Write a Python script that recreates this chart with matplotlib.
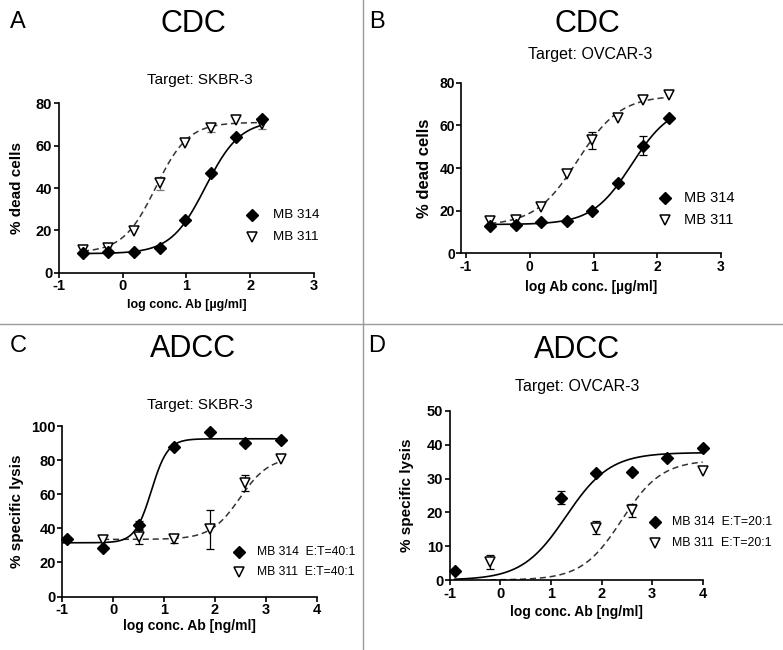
import matplotlib
matplotlib.use("Agg")
import matplotlib.pyplot as plt
from matplotlib.lines import Line2D
import numpy as np

plt.rcParams['font.family'] = ['Liberation Sans', 'DejaVu Sans']
plt.rcParams['axes.unicode_minus'] = False

W, H = 783, 650

# ---- data ----
cdc_x = [-0.62, -0.22, 0.18, 0.58, 0.98, 1.38, 1.78, 2.18]

a_314 = [9.1, 9.6, 9.9, 11.5, 24.9, 46.9, 64.1, 72.4]
a_314_err = [0, 0, 0, 0, 0, 0, 0, 1.2]
a_311 = [10.7, 11.5, 19.7, 42.2, 61.4, 68.5, 72.0, 70.3]
a_311_err = [0, 0, 0, 3.0, 0, 2.0, 0, 2.5]

b_314 = [13.0, 13.3, 14.5, 15.2, 20.0, 33.0, 50.5, 63.3]
b_314_err = [0, 0, 0, 0, 0, 0, 4.3, 0]
b_311 = [15.3, 15.8, 21.9, 37.0, 53.0, 63.4, 71.9, 74.2]
b_311_err = [0, 0, 0, 0, 4.0, 0, 0, 0]

adcc_x = [-0.9, -0.2, 0.5, 1.2, 1.9, 2.6, 3.3, 4.0]

c_314 = [33.5, 28.5, 42.0, 87.8, 96.5, 89.8, 92.0, np.nan]
c_314_err = [0, 0, 2.5, 0, 0, 0, 0, 0]
c_311 = [np.nan, 33.0, 35.0, 33.5, 39.5, 66.5, 80.5, np.nan]
c_311_err = [0, 0, 4.0, 2.0, 11.5, 4.5, 0, 0]

d_314 = [2.8, np.nan, np.nan, 24.4, 31.6, 32.0, 36.0, 39.0]
d_314_err = [0, 0, 0, 2.0, 0, 0, 0, 0]
d_311 = [np.nan, 5.4, np.nan, np.nan, 15.5, 20.6, np.nan, 32.3]
d_311_err = [0, 2.0, 0, 0, 2.0, 2.0, 0, 0]

# 4PL fit parameters: bottom, top, logEC50, hill
a_314_fit = [9.0, 72.0, 1.30, 1.6]
a_311_fit = [9.5, 71.0, 0.52, 1.7]
b_314_fit = [13.5, 70.0, 1.60, 1.4]
b_311_fit = [13.0, 74.0, 0.75, 1.3]
c_314_fit = [31.5, 92.5, 0.75, 2.7]
c_311_fit = [33.5, 82.0, 2.49, 1.5]
d_314_fit = [0.0, 37.7, 1.30, 1.0]
d_311_fit = [0.0, 35.5, 2.40, 1.1]


def four_pl(x, p):
    bottom, top, ec50, hill = p
    return bottom + (top - bottom) / (1 + 10 ** ((ec50 - x) * hill))


def rect(box):
    l, t, r, b = box
    return [l / W, 1 - b / H, (r - l) / W, (b - t) / H]


def ftext(fig, x, y, s, **kw):
    fig.text(x / W, 1 - y / H, s, ha=kw.pop('ha', 'center'), va='center', **kw)


def style_axes(ax, xlim, ylim, yticks, xticks, tsize):
    ax.set_xlim(*xlim)
    ax.set_ylim(*ylim)
    ax.set_yticks(yticks)
    ax.set_xticks(xticks)
    for s in ['top', 'right']:
        ax.spines[s].set_visible(False)
    for s in ['left', 'bottom']:
        ax.spines[s].set_linewidth(1.2)
    ax.tick_params(direction='out', length=3.5, width=1.2, labelsize=tsize, pad=1.2)
    for lab in ax.get_xticklabels() + ax.get_yticklabels():
        lab.set_fontweight('bold')


def labels(ax, box, xlabel, xl_y, xsize, ylabel, yl_x, ysize):
    l, t, r, b = box
    ax.set_xlabel(xlabel, fontsize=xsize, fontweight='bold', va='center')
    ax.set_ylabel(ylabel, fontsize=ysize, fontweight='bold', va='center')
    ax.xaxis.set_label_coords(0.5, (b - xl_y) / (b - t))
    ax.yaxis.set_label_coords((yl_x - l) / (r - l), 0.5)


def draw_series(ax, x, y, err, fit, xr, marker, dashed, errcolor='black'):
    x = np.asarray(x, float)
    y = np.asarray(y, float)
    err = np.asarray(err, float)
    xs = np.linspace(xr[0], xr[1], 200)
    if dashed:
        ax.plot(xs, four_pl(xs, fit), color='#333333', lw=1.1, ls=(0, (4, 2.5)), zorder=2)
    else:
        ax.plot(xs, four_pl(xs, fit), color='black', lw=1.2, zorder=2)
    m = err > 0
    if m.any():
        ax.errorbar(x[m], y[m], yerr=err[m], fmt='none', ecolor=errcolor,
                    elinewidth=0.9, capsize=3.2, capthick=0.9, zorder=3)
    if marker == 'D':
        ax.plot(x, y, 'D', ms=5.8, mfc='black', mec='black', ls='none', zorder=4, clip_on=False)
    else:
        ax.plot(x, y, 'v', ms=7.5, mfc='white', mec='black', mew=1.1, ls='none', zorder=4, clip_on=False)


def key(fig, mx, ty, label, marker, tx, size):
    if marker == 'D':
        h = Line2D([mx / W], [1 - ty / H], marker='D', ms=5.8, mfc='black', mec='black', ls='none')
    else:
        h = Line2D([mx / W], [1 - ty / H], marker='v', ms=7.5, mfc='white', mec='black', mew=1.1, ls='none')
    fig.add_artist(h)
    ftext(fig, tx, ty, label, ha='left', fontsize=size)


fig = plt.figure(figsize=(W / 100, H / 100), dpi=100)

box_a = (58.7, 103.3, 314, 272.7)
box_b = (461.3, 82.7, 721, 253.3)
box_c = (62.3, 426, 316.7, 596.5)
box_d = (449.7, 411, 702.7, 580)

# panel A
ax = fig.add_axes(rect(box_a))
draw_series(ax, cdc_x, a_311, a_311_err, a_311_fit, (cdc_x[0], cdc_x[-1]), 'v', True, '#777777')
draw_series(ax, cdc_x, a_314, a_314_err, a_314_fit, (cdc_x[0], cdc_x[-1]), 'D', False, '#777777')
style_axes(ax, (-1, 3), (0, 80), [0, 20, 40, 60, 80], [-1, 0, 1, 2, 3], 10.5)
labels(ax, box_a, 'log conc. Ab [µg/ml]', 305, 9, '% dead cells', 17, 11)

# panel B
ax = fig.add_axes(rect(box_b))
draw_series(ax, cdc_x, b_311, b_311_err, b_311_fit, (cdc_x[0], cdc_x[-1]), 'v', True)
draw_series(ax, cdc_x, b_314, b_314_err, b_314_fit, (cdc_x[0], cdc_x[-1]), 'D', False)
style_axes(ax, (-1.074, 3), (0, 80), [0, 20, 40, 60, 80], [-1, 0, 1, 2, 3], 10)
labels(ax, box_b, 'log Ab conc. [µg/ml]', 287, 10, '% dead cells', 425, 12)

# panel C
ax = fig.add_axes(rect(box_c))
draw_series(ax, adcc_x, c_311, c_311_err, c_311_fit, (adcc_x[1], adcc_x[6]), 'v', True)
draw_series(ax, adcc_x, c_314, c_314_err, c_314_fit, (-1.0, adcc_x[6]), 'D', False)
style_axes(ax, (-1, 4), (0, 100), [0, 20, 40, 60, 80, 100], [-1, 0, 1, 2, 3, 4], 10.5)
labels(ax, box_c, 'log conc. Ab [ng/ml]', 626, 10, '% specific lysis', 17, 11)

# panel D
ax = fig.add_axes(rect(box_d))
draw_series(ax, adcc_x, d_311, d_311_err, d_311_fit, (adcc_x[1], adcc_x[-1]), 'v', True)
draw_series(ax, adcc_x, d_314, d_314_err, d_314_fit, (adcc_x[0], adcc_x[-1]), 'D', False)
style_axes(ax, (-1, 4), (0, 50), [0, 10, 20, 30, 40, 50], [-1, 0, 1, 2, 3, 4], 10.5)
labels(ax, box_d, 'log conc. Ab [ng/ml]', 612, 10, '% specific lysis', 407, 11)

# titles and panel letters
ftext(fig, 18, 22, 'A', fontsize=17)
ftext(fig, 377, 22, 'B', fontsize=17)
ftext(fig, 18, 346, 'C', fontsize=17)
ftext(fig, 377, 346, 'D', fontsize=17)
ftext(fig, 193, 24, 'CDC', fontsize=22)
ftext(fig, 587, 24, 'CDC', fontsize=22)
ftext(fig, 193, 349, 'ADCC', fontsize=22)
ftext(fig, 577, 350, 'ADCC', fontsize=22)
ftext(fig, 200, 80, 'Target: SKBR-3', fontsize=11)
ftext(fig, 590, 55, 'Target: OVCAR-3', fontsize=11.5)
ftext(fig, 200, 405, 'Target: SKBR-3', fontsize=11)
ftext(fig, 577, 387, 'Target: OVCAR-3', fontsize=11.5)

# legends
key(fig, 252, 215, 'MB 314', 'D', 273, 9.7)
key(fig, 252, 237, 'MB 311', 'v', 273, 9.7)
key(fig, 665, 198, 'MB 314', 'D', 684, 10.5)
key(fig, 665, 220, 'MB 311', 'v', 684, 10.5)
key(fig, 239, 552, 'MB 314  E:T=40:1', 'D', 257, 8.7)
key(fig, 239, 572, 'MB 311  E:T=40:1', 'v', 257, 8.7)
key(fig, 655, 522, 'MB 314  E:T=20:1', 'D', 672, 8.9)
key(fig, 655, 543, 'MB 311  E:T=20:1', 'v', 672, 8.9)

# panel separators
fig.add_artist(Line2D([363 / W, 363 / W], [0, 1], color='#9a9a9a', lw=1))
fig.add_artist(Line2D([0, 1], [1 - 324 / H, 1 - 324 / H], color='#9a9a9a', lw=1))

fig.savefig('out.png', dpi=100)
